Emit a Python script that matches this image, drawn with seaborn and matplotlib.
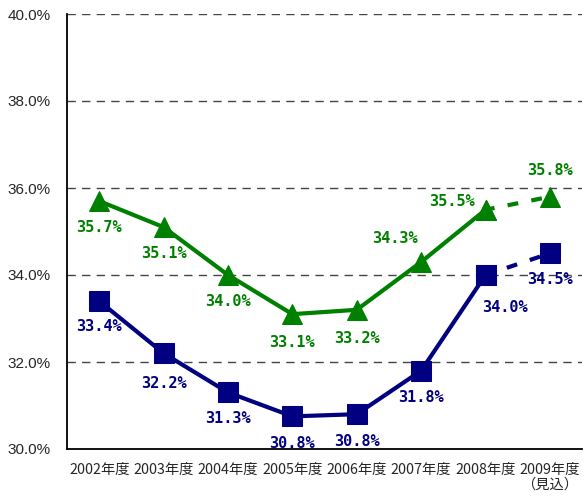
import numpy as np
import pandas as pd
import matplotlib
matplotlib.use("Agg")
import matplotlib.pyplot as plt
import seaborn as sns
from matplotlib.ticker import FixedLocator

# data
years = ["2002年度", "2003年度", "2004年度", "2005年度", "2006年度",
         "2007年度", "2008年度", "2009年度\n（見込）"]
green_vals = [35.7, 35.1, 34.0, 33.1, 33.2, 34.3, 35.5, 35.8]
navy_vals = [33.4, 32.2, 31.3, 30.75, 30.8, 31.8, 34.0, 34.5]
green_labels = ["35.7%", "35.1%", "34.0%", "33.1%", "33.2%", "34.3%", "35.5%", "35.8%"]
navy_labels = ["33.4%", "32.2%", "31.3%", "30.8%", "30.8%", "31.8%", "34.0%", "34.5%"]

GREEN = "#008000"
NAVY = "#000080"

sns.set_style("white")
plt.rcParams["font.family"] = ["Liberation Sans", "Noto Sans CJK JP", "DejaVu Sans"]

df = pd.DataFrame({"pos": np.arange(len(years)), "green": green_vals, "navy": navy_vals})
solid = df.iloc[:-1]
proj = df.iloc[-2:]

fig = plt.figure(figsize=(5.88, 5.0), dpi=100)
ax = fig.add_axes([0.114, 0.102, 0.876, 0.870])

# grid lines
for y in [32, 34, 36, 38, 40]:
    ax.axhline(y, color="#444444", lw=1, dashes=(6, 4.5), zorder=0)

for col, color, mk in [("green", GREEN, "^"), ("navy", NAVY, "s")]:
    sns.lineplot(data=solid, x="pos", y=col, color=color, lw=3, ax=ax,
                 marker=mk, markersize=14, markeredgecolor=color, zorder=3)
    # 2009 is a forecast -> dashed segment
    sns.lineplot(data=proj, x="pos", y=col, color=color, lw=3, ax=ax,
                 marker=mk, markersize=14, markeredgecolor=color,
                 dashes=False, linestyle=(0.4, (2.6, 3.2)), zorder=3)

lab_font = dict(family="DejaVu Sans Mono", fontweight="bold", fontsize=11,
                ha="center", va="center")

green_off = [(0, -26), (0, -26), (0, -27), (0, -28), (0, -29), (-26, 23), (-34, 8), (0, 26)]
navy_off = [(0, -25), (0, -30), (0, -26), (0, -27), (0, -27), (0, -27), (19, -33), (0, -26)]
for i in range(len(years)):
    ax.annotate(green_labels[i], (i, green_vals[i]), xytext=(green_off[i][0] * 0.72, green_off[i][1] * 0.72),
                textcoords="offset points", color=GREEN, **lab_font)
    ax.annotate(navy_labels[i], (i, navy_vals[i]), xytext=(navy_off[i][0] * 0.72, navy_off[i][1] * 0.72),
                textcoords="offset points", color=NAVY, **lab_font)

ax.set_xlim(-0.5, len(years) - 0.5)
ax.set_ylim(30, 40)
ax.set_yticks(np.arange(30, 40.1, 2))
ax.set_yticklabels([f"{v:.1f}%" for v in np.arange(30, 40.1, 2)], fontsize=11)
ax.set_xticks(df["pos"])
ax.set_xticklabels(years, fontsize=10.3, family=["Noto Sans CJK JP", "DejaVu Sans"], linespacing=1.05)
ax.xaxis.set_minor_locator(FixedLocator(np.arange(-0.5, len(years), 1)))
ax.tick_params(axis="x", which="major", length=0, pad=10)
ax.tick_params(axis="x", which="minor", direction="in", length=5, width=1, color="black")
ax.tick_params(axis="y", which="major", direction="out", length=4, width=1, color="black", pad=8)
ax.set_xlabel("")
ax.set_ylabel("")

for side in ["top", "right"]:
    ax.spines[side].set_visible(False)
for side in ["left", "bottom"]:
    ax.spines[side].set_color("black")
    ax.spines[side].set_linewidth(1.3)

fig.savefig("out.png", dpi=100)
